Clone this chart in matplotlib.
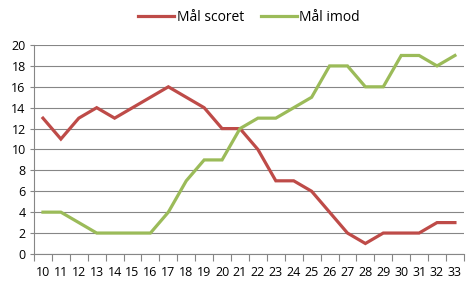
import numpy as np
import matplotlib.pyplot as plt

rounds = [str(r) for r in range(10, 34)]
maal_scoret = [13, 11, 13, 14, 13, 14, 15, 16, 15, 14, 12, 12, 10, 7, 7, 6, 4, 2, 1, 2, 2, 2, 3, 3]
maal_imod = [4, 4, 3, 2, 2, 2, 2, 4, 7, 9, 9, 12, 13, 13, 14, 15, 18, 18, 16, 16, 19, 19, 18, 19]

plt.rcParams['font.family'] = ['Open Sans', 'DejaVu Sans']

fig = plt.figure(figsize=(4.75, 2.85), dpi=100)
ax = fig.add_axes([0.0716, 0.109, 0.905, 0.733])

x = np.arange(len(rounds))
ax.plot(x, maal_scoret, color='#BE4B48', lw=2.3, label='Mål scoret', solid_joinstyle='miter')
ax.plot(x, maal_imod, color='#9BBB59', lw=2.3, label='Mål imod', solid_joinstyle='miter')

ax.set_xlim(-0.5, len(rounds) - 0.5)
ax.set_ylim(0, 20)
ax.set_yticks(range(0, 21, 2))
ax.set_xticks(x)
ax.set_xticklabels(rounds)
ax.set_xticks(np.arange(-0.5, len(rounds), 1), minor=True)
ax.tick_params(axis='x', which='major', length=0, pad=9, labelsize=9)
ax.tick_params(axis='x', which='minor', length=5, color='#868686', width=0.8)
ax.tick_params(axis='y', length=3, color='#868686', width=0.8, labelsize=9, pad=3)

ax.grid(axis='y', color='#868686', lw=0.8)
ax.set_axisbelow(True)
for s in ['top', 'right']:
    ax.spines[s].set_visible(False)
for s in ['left', 'bottom']:
    ax.spines[s].set_color('#868686')
    ax.spines[s].set_linewidth(0.8)

ax.legend(loc='lower center', bbox_to_anchor=(0.5, 1.035), ncol=2, frameon=False,
          fontsize=10, handlelength=2.6, handletextpad=0.2, columnspacing=1.2)

fig.savefig('out.png', dpi=100)
